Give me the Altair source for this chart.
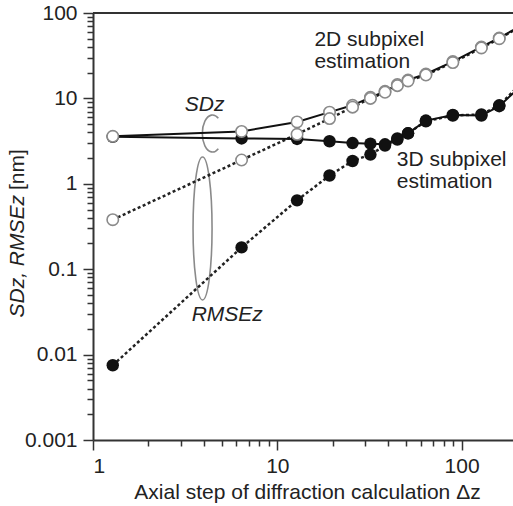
import altair as alt
import pandas as pd

# Axial step of the diffraction calculation (Δz)
step = [1.28, 6.4, 12.8, 19.2, 25.6, 32, 38.4, 44.8, 51.2, 64, 89.6, 128, 160, 256]

# Standard deviation and RMS error of the estimated z position [nm]
sd_2d = [3.6, 4.1, 5.3, 6.9, 8.3, 10.3, 12.1, 14.5, 16.4, 19.3, 27.0, 40.0, 51.0, 91.0]
rmse_2d = [0.38, 1.9, 3.8, 5.8, 7.9, 10.0, 11.8, 14.1, 16.0, 18.8, 26.3, 39.0, 50.0, 89.0]
sd_3d = [3.55, 3.4, 3.35, 3.15, 3.0, 2.95, 2.9, 3.4, 3.9, 5.5, 6.4, 6.3, 8.1, 21.0]
rmse_3d = [0.0075, 0.18, 0.64, 1.25, 1.85, 2.2, 2.8, 3.3, 3.9, 5.4, 6.3, 6.5, 8.3, 23.0]

rows = []
for dim, metric, vals in [
    ("3D", "SD", sd_3d),
    ("3D", "RMSE", rmse_3d),
    ("2D", "SD", sd_2d),
    ("2D", "RMSE", rmse_2d),
]:
    for xv, yv in zip(step, vals):
        rows.append({"step": xv, "err": yv, "dim": dim, "metric": metric,
                     "series": dim + metric})
df = pd.DataFrame(rows)

FONT = "Liberation Sans"
FS = 21
INK = "#222222"

x_ticks = [float(m * 10 ** k) for k in range(0, 2) for m in range(1, 10)] + [100.0]
y_ticks = [round(m * 10.0 ** k, 6) for k in range(-3, 2) for m in range(1, 10)] + [100.0]
decade = "abs(log(datum.value)/LN10 - round(log(datum.value)/LN10)) < 0.001"
tick_size = {"condition": {"test": decade, "value": 10}, "value": 6}
label_expr = decade + " ? format(datum.value, '~g') : ''"

x_enc = alt.X(
    "step:Q",
    scale=alt.Scale(type="log", domain=[1, 190], nice=False),
    axis=alt.Axis(
        values=x_ticks, labelExpr=label_expr, tickSize=tick_size,
        labelPadding=5, title="Axial step of diffraction calculation Δz",
        titlePadding=5, titleX=214, titleAnchor="middle", grid=False,
    ),
)
y_enc = alt.Y(
    "err:Q",
    scale=alt.Scale(type="log", domain=[0.001, 100], nice=False),
    axis=alt.Axis(
        values=y_ticks, labelExpr=label_expr, tickSize=tick_size,
        labelPadding=6, title=None, grid=False,
    ),
)

base = alt.Chart(df)

sd_lines = base.transform_filter("datum.metric == 'SD'").mark_line(
    color="#111111", strokeWidth=2, clip=True
).encode(x=x_enc, y=y_enc, detail="series:N")

rmse_lines = base.transform_filter("datum.metric == 'RMSE'").mark_line(
    color="#222222", strokeWidth=2.5, strokeDash=[3, 2.5], clip=True
).encode(x=x_enc, y=y_enc, detail="series:N")

filled_pts = base.transform_filter("datum.dim == '3D'").mark_point(
    shape="circle", filled=True, color="#111111", size=155, opacity=1, clip=True
).encode(x=x_enc, y=y_enc)

open_pts = base.transform_filter("datum.dim == '2D'").mark_point(
    shape="circle", filled=True, fill="white", stroke="#8a8a8a",
    strokeWidth=1.6, size=130, opacity=1, clip=True
).encode(x=x_enc, y=y_enc)

# Gray brackets grouping the SDz and RMSEz curves
brackets = pd.DataFrame({
    "step": [4.45, 3.93],
    "err": [3.88, 0.30],
})
sd_bracket = alt.Chart(brackets.iloc[[0]]).mark_point(
    shape="M 0.315 -0.819 A 0.55 1 0 1 0 0.315 0.819",
    filled=False, stroke="#8a8a8a", strokeWidth=1.6, size=1369, opacity=1,
).encode(x=x_enc, y=y_enc)
rmse_bracket = alt.Chart(brackets.iloc[[1]]).mark_point(
    shape="M 0 -1 A 0.133 1 0 1 1 0 1 A 0.133 1 0 1 1 0 -1 Z",
    filled=False, stroke="#8a8a8a", strokeWidth=1.6, size=20449, opacity=1,
).encode(x=x_enc, y=y_enc)

# Text annotations placed in data coordinates
labels = pd.DataFrame({
    "step": [15.9, 15.9, 44.5, 44.5],
    "err": [48.3, 26.7, 1.90, 1.05],
    "text": ["2D subpixel", "estimation", "3D subpixel", "estimation"],
})
label_text = alt.Chart(labels).mark_text(
    align="left", baseline="middle", font=FONT, fontSize=FS, color=INK
).encode(x=x_enc, y=y_enc, text="text:N")

italic = pd.DataFrame({
    "step": [4.03, 3.43],
    "err": [8.4, 0.029],
    "text": ["SDz", "RMSEz"],
})
sd_label = alt.Chart(italic.iloc[[0]]).mark_text(
    align="center", baseline="middle", font=FONT, fontSize=FS,
    fontStyle="italic", color=INK
).encode(x=x_enc, y=y_enc, text="text:N")
rmse_label = alt.Chart(italic.iloc[[1]]).mark_text(
    align="left", baseline="middle", font=FONT, fontSize=FS,
    fontStyle="italic", color=INK
).encode(x=x_enc, y=y_enc, text="text:N")

# Top frame line at the upper end of the y domain
top_rule = alt.Chart(pd.DataFrame({"err": [100.0]})).mark_rule(
    color="#333333", strokeWidth=2
).encode(y=alt.Y("err:Q", scale=alt.Scale(type="log", domain=[0.001, 100], nice=False)))

# Vertical axis title: italic quantity names, upright unit
one = pd.DataFrame({"k": [0]})
ytitle_a = alt.Chart(one).mark_text(
    text="SDz, RMSEz", angle=270, align="right", baseline="middle",
    font=FONT, fontSize=FS, fontStyle="italic", color=INK
).encode(x=alt.value(-75), y=alt.value(182))
ytitle_b = alt.Chart(one).mark_text(
    text="[nm]", angle=270, align="left", baseline="middle",
    font=FONT, fontSize=FS, color=INK
).encode(x=alt.value(-75), y=alt.value(177))

chart = alt.layer(
    sd_bracket, rmse_bracket, rmse_lines, sd_lines, filled_pts, open_pts,
    label_text, sd_label, rmse_label, top_rule, ytitle_a, ytitle_b,
).properties(
    width=420, height=427,
    autosize=alt.AutoSizeParams(type="none"),
    padding={"left": 93, "top": 13, "right": 0, "bottom": 66},
).configure_view(
    stroke=None
).configure_axis(
    labelFont=FONT, labelFontSize=FS, labelColor=INK,
    titleFont=FONT, titleFontSize=FS, titleColor=INK, titleFontWeight="normal",
    domainColor="#333333", domainWidth=2, tickColor="#333333", tickWidth=1.5,
)

chart.save("out.html", embed_options={"renderer": "svg", "actions": False})
